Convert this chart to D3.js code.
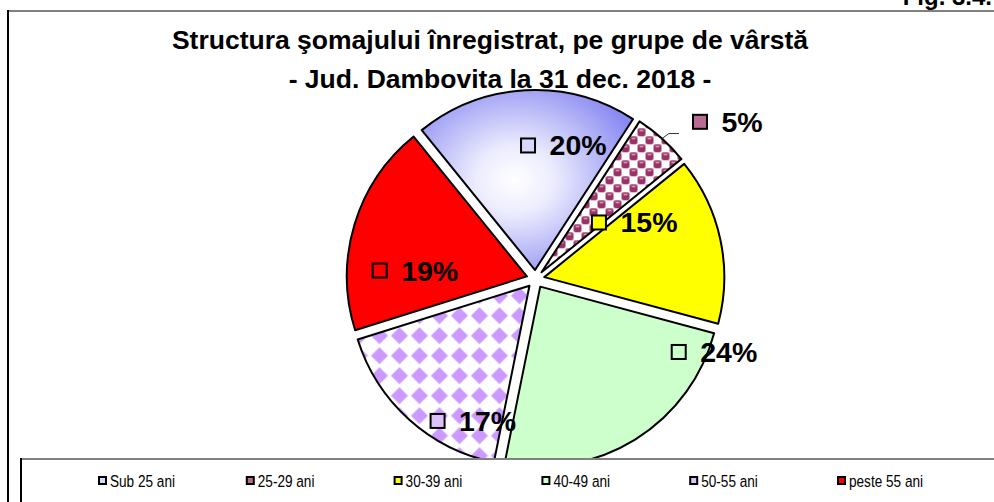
<!DOCTYPE html>
<html><head><meta charset="utf-8">
<script src="https://cdn.jsdelivr.net/npm/d3@7"></script>
<style>html,body{margin:0;padding:0;background:#fff;overflow:hidden}</style>
</head><body>
<svg id="chart" width="994" height="502"></svg>
<script>
// ---- data ----
const categories = ["Sub 25 ani", "25-29 ani", "30-39 ani", "40-49 ani", "50-55 ani", "peste 55 ani"];
const values = [20, 5, 15, 24, 17, 19];
const valueLabels = ["20%", "5%", "15%", "24%", "17%", "19%"];
const titleLines = ["Structura şomajului înregistrat, pe grupe de vârstă", "- Jud. Dambovita la 31 dec. 2018 -"];
const figLabel = "Fig. 3.4.";

// ---- drawing ----
const svg = d3.select("#chart");
const W = 994, H = 502;
svg.append("rect").attr("width", W).attr("height", H).attr("fill", "#fff");

const defs = svg.append("defs");
const gb = defs.append("radialGradient").attr("id", "gBlue").attr("cx", 0.44).attr("cy", 0.5).attr("r", 0.62);
gb.append("stop").attr("offset", 0).attr("stop-color", "#ffffff");
gb.append("stop").attr("offset", 0.3).attr("stop-color", "#ececfe");
gb.append("stop").attr("offset", 1).attr("stop-color", "#8888f2");

const cs = 8;
const pc = defs.append("pattern").attr("id", "pChk").attr("patternUnits", "userSpaceOnUse").attr("width", 2 * cs).attr("height", 2 * cs);
pc.append("rect").attr("width", 2 * cs).attr("height", 2 * cs).attr("fill", "#fff");
[[0,0],[cs,cs]].forEach(([x,y]) => {
  pc.append("rect").attr("x", x).attr("y", y).attr("width", cs).attr("height", cs).attr("rx", 2).attr("fill", "#993366");
  pc.append("rect").attr("x", x + 2).attr("y", y + 1.5).attr("width", 4).attr("height", 1.5).attr("rx", 0.7).attr("fill", "#dcaec5");
});

const pd = defs.append("pattern").attr("id", "pDia").attr("patternUnits", "userSpaceOnUse").attr("width", 20).attr("height", 20);
pd.append("rect").attr("width", 20).attr("height", 20).attr("fill", "#fff");
pd.append("path").attr("d", "M10,1.5 L18.5,10 L10,18.5 L1.5,10 Z").attr("fill", "#cc99ff");

const fills = ["url(#gBlue)", "url(#pChk)", "#ffff00", "#ccffcc", "url(#pDia)", "#ff0000"];
const legendFills = ["#d8d8fb", "#b96b91", "#ffff00", "#ccffcc", "#dcc2fb", "#ff0000"];

// outer frame
svg.append("line").attr("x1", 8).attr("y1", 11).attr("x2", W).attr("y2", 11).attr("stroke", "#808080").attr("stroke-width", 2);
svg.append("line").attr("x1", 8).attr("y1", 10).attr("x2", 8).attr("y2", H).attr("stroke", "#000").attr("stroke-width", 2);

// fig label (cut by top edge, as in the reference)
svg.append("text").attr("x", 992).attr("y", 5).attr("text-anchor", "end")
  .attr("font-family", "Liberation Sans, Arial, sans-serif").attr("font-weight", "bold").attr("font-size", 24)
  .text(figLabel);

// title
const tFont = "'Liberation Sans', Arial, sans-serif";
svg.append("text").attr("x", 490).attr("y", 49).attr("text-anchor", "middle")
  .attr("font-family", tFont).attr("font-weight", "bold").attr("font-size", 26.5).text(titleLines[0]);
svg.append("text").attr("x", 500).attr("y", 88).attr("text-anchor", "middle")
  .attr("font-family", tFont).attr("font-weight", "bold").attr("font-size", 26.5).text(titleLines[1]);

// pie
const cx = 535.5, cy = 279, R = 180, explode = 9;
const toRad = Math.PI / 180;
const pie = d3.pie().sort(null).value(d => d).startAngle(-39 * toRad).endAngle(321 * toRad);
const arcs = pie(values);
const arcGen = d3.arc().innerRadius(0).outerRadius(R);
const pt = (a, d) => [d * Math.sin(a), -d * Math.cos(a)];

const pieG = svg.append("g").attr("transform", `translate(${cx},${cy})`);
arcs.forEach((a, i) => {
  const mid = (a.startAngle + a.endAngle) / 2;
  const [ox, oy] = pt(mid, explode);
  pieG.append("path").attr("d", arcGen(a)).attr("transform", `translate(${ox},${oy})`)
    .attr("fill", fills[i]).attr("stroke", "#000").attr("stroke-width", 2).attr("stroke-linejoin", "round");
});

// data labels (legend key + percent)
const labelLayout = [
  {a: -3.2, k: 0.743}, {a: 46.3, k: 1.264}, {a: 48.3, k: 0.472},
  {a: 117, k: 0.893}, {a: 214.6, k: 0.958}, {a: 273.1, k: 0.867}
];
const lFont = "'Liberation Sans', Arial, sans-serif";
arcs.forEach((a, i) => {
  const L = labelLayout[i];
  const [mx, my] = pt(L.a * toRad, L.k * R);
  const g = pieG.append("g").attr("transform", `translate(${mx},${my})`);
  g.append("rect").attr("x", -7).attr("y", -7).attr("width", 14).attr("height", 14)
    .attr("fill", legendFills[i]).attr("stroke", "#000").attr("stroke-width", 2);
  g.append("text").attr("x", 21.5).attr("y", 10).attr("font-family", lFont).attr("font-weight", "bold")
    .attr("font-size", 28.5).attr("fill", "#000").text(valueLabels[i]);
});

// leader line for the small slice
{
  const a = arcs[1];
  const mid = (a.startAngle + a.endAngle) / 2;
  const [ox, oy] = pt(mid, explode);
  const [px, py] = pt(mid, R);
  const L = labelLayout[1];
  const [mx, my] = pt(L.a * toRad, L.k * R);
  const p0 = [px + ox, py + oy];
  const p1 = [p0[0] + 7, p0[1] - 5];
  const p2 = [mx - 21, p1[1]];
  pieG.append("path").attr("d", d3.line()([p0, p1, p2])).attr("fill", "none")
    .attr("stroke", "#333").attr("stroke-width", 1);
}

// legend box
const legY = 459;
svg.append("rect").attr("x", 21).attr("y", legY).attr("width", W).attr("height", H).attr("fill", "#fff");
svg.append("line").attr("x1", 21).attr("y1", legY).attr("x2", W).attr("y2", legY).attr("stroke", "#808080").attr("stroke-width", 2);
svg.append("line").attr("x1", 21).attr("y1", legY - 1).attr("x2", 21).attr("y2", H).attr("stroke", "#000").attr("stroke-width", 2);

const legX = d3.scalePoint().domain(categories).range([98, 837]);
const legG = svg.append("g");
categories.forEach((c, i) => {
  const x = legX(c);
  legG.append("rect").attr("x", x + 1).attr("y", 477).attr("width", 7).attr("height", 7)
    .attr("fill", legendFills[i]).attr("stroke", "#000").attr("stroke-width", 2);
  legG.append("text").attr("transform", `translate(${x + 12},487) scale(0.8,1)`)
    .attr("font-family", tFont).attr("font-size", 17).attr("fill", "#000").text(c);
});
</script>
</body></html>
